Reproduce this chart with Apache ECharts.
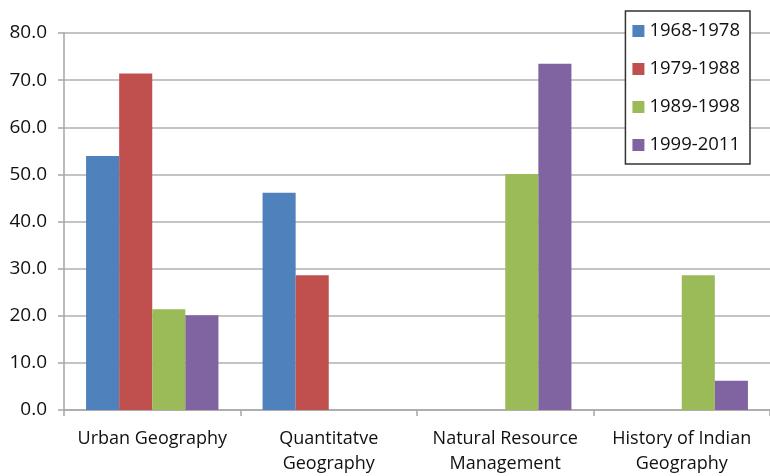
<!DOCTYPE html>
<html>
<head>
<meta charset="utf-8">
<script src="https://cdn.jsdelivr.net/npm/echarts@6/dist/echarts.min.js"></script>
<style>
  html, body { margin: 0; padding: 0; background: #ffffff; }
  #chart { width: 770px; height: 476px; }
</style>
</head>
<body>
<div id="chart"></div>
<script>
// Research themes by period (percent of works)
const categories = ['Urban Geography', 'Quantitatve\nGeography', 'Natural Resource\nManagement', 'History of Indian\nGeography'];
const periods = ['1968-1978', '1979-1988', '1989-1998', '1999-2011'];
const colors = ['#4F81BD', '#C0504D', '#9BBB59', '#8064A2'];
const values1968 = [53.9, 46.1, null, null];
const values1979 = [71.4, 28.6, null, null];
const values1989 = [21.4, null, 50.1, 28.6];
const values1999 = [20.1, null, 73.5, 6.2];
const yTicks = { min: 0, max: 80, interval: 10 };

const seriesValues = [values1968, values1979, values1989, values1999];
const font = 'Open Sans, Liberation Sans, sans-serif';

const chart = echarts.init(document.getElementById('chart'), null, { renderer: 'canvas' });
chart.setOption({
  backgroundColor: '#ffffff',
  animation: false,
  grid: { left: 64, right: 0, top: 33, bottom: 63 },
  legend: {
    orient: 'vertical',
    right: 20,
    top: 11,
    itemWidth: 12,
    itemHeight: 12,
    itemGap: 18,
    padding: [10, 10, 9, 7],
    backgroundColor: '#ffffff',
    borderColor: '#333333',
    borderWidth: 1.5,
    icon: 'rect',
    textStyle: { fontFamily: font, fontSize: 18.5, lineHeight: 20, color: '#111111' },
    data: periods
  },
  xAxis: {
    type: 'category',
    data: categories,
    axisLine: { lineStyle: { color: '#a6a6a6', width: 1.5 } },
    axisTick: { show: true, length: 6, lineStyle: { color: '#a6a6a6', width: 1.5 } },
    axisLabel: { fontFamily: font, fontSize: 18, color: '#111111', margin: 16, lineHeight: 25, interval: 0 },
    splitLine: { show: false }
  },
  yAxis: {
    type: 'value',
    min: yTicks.min,
    max: yTicks.max,
    interval: yTicks.interval,
    axisLine: { show: true, lineStyle: { color: '#a6a6a6', width: 1.5 } },
    axisTick: { show: true, length: 6, lineStyle: { color: '#a6a6a6', width: 1.5 } },
    axisLabel: {
      fontFamily: font, fontSize: 19, color: '#111111', margin: 17,
      formatter: v => v.toFixed(1)
    },
    splitLine: { lineStyle: { color: '#b0b0b0', width: 1.5 } }
  },
  series: periods.map((name, i) => ({
    name,
    type: 'bar',
    data: seriesValues[i],
    barGap: '0%',
    barCategoryGap: '25%',
    itemStyle: { color: colors[i] }
  }))
});
</script>
</body>
</html>
